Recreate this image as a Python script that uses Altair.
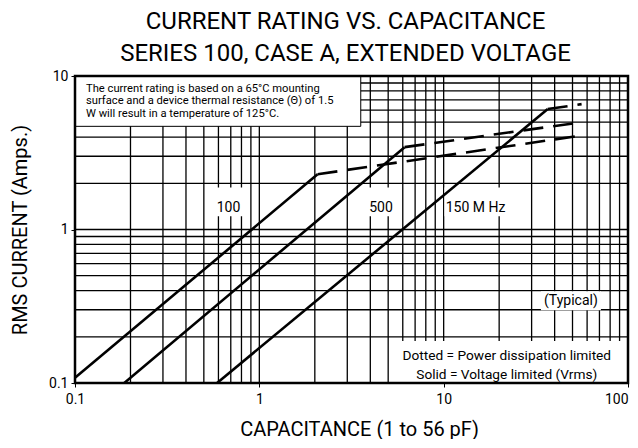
import altair as alt
import pandas as pd

W, H = 553, 307
FONT = "Roboto"

# ---- data ----
series = ["100", "500", "150"]
solid_c = {"100": [0.1, 2.07], "500": [0.185, 6.14], "150": [0.59, 36.7]}
solid_i = {"100": [0.108, 2.29], "500": [0.1, 3.44], "150": [0.1, 6.09]}
dash_c = {"100": [2.07, 56], "500": [6.14, 56], "150": [36.7, 56]}
dash_i = {"100": [2.29, 4.1], "500": [3.44, 5.0], "150": [6.09, 6.56]}

x_grid = [0.2, 0.3, 0.4, 0.5, 0.6, 0.7, 0.8, 0.9, 1, 2, 3, 4, 5, 6, 7, 8, 9,
          10, 20, 30, 40, 50, 60, 70, 80, 90]
y_grid = [0.2, 0.3, 0.4, 0.5, 0.6, 0.7, 0.8, 0.9, 1, 2, 3, 4, 5, 6, 7, 8, 9]
x_ticks = [0.1, 1, 10, 100]
y_ticks = [0.1, 1, 10]

note_lines = ["The current rating is based on a 65°C mounting",
              "surface and a device thermal resistance (Θ) of 1.5",
              "W will result in a temperature of 125°C."]
note_i = [8.26, 6.84, 5.67]

curve_labels = ["100", "500", "150 M Hz"]
curve_label_c = [0.68, 4.57, 14.9]
curve_label_i = 1.39
curve_bg_c1 = [0.577, 3.63, 10.1]
curve_bg_c2 = [0.871, 5.62, 21.7]
curve_bg_i1 = 1.88
curve_bg_i2 = 1.22

legend_lines = ["Dotted = Power dissipation limited", "Solid = Voltage limited (Vrms)"]
legend_i = [0.15, 0.113]
legend_c = 22.0

# ---- tables ----
rows = []
for s in series:
    for k in range(2):
        rows.append({"series": s, "style": "solid", "C": solid_c[s][k], "I": solid_i[s][k], "o": k})
        rows.append({"series": s, "style": "dash", "C": dash_c[s][k], "I": dash_i[s][k], "o": k})
curves = pd.DataFrame(rows)

xs = alt.Scale(type="log", domain=[0.1, 100])
ys = alt.Scale(type="log", domain=[0.1, 10])
xax = alt.Axis(values=x_ticks, format="~g", grid=False, domain=False, labelFlush=False,
               labelAlign={"condition": {"test": "datum.value >= 100", "value": "right"},
                           "value": "center"},
               tickColor="black", tickSize=4, labelFont=FONT, labelFontSize=14,
               labelColor="black", title="CAPACITANCE (1 to 56 pF)",
               titleFont=FONT, titleFontSize=20, titleFontWeight="normal",
               titleColor="black", titlePadding=13, labelPadding=5, titleX=284)
yax = alt.Axis(values=y_ticks, format="~g", grid=False, domain=False,
               tickColor="black", tickSize=4, labelFont=FONT, labelFontSize=14,
               labelColor="black", title="RMS CURRENT (Amps.)",
               titleFont=FONT, titleFontSize=20, titleFontWeight="normal",
               titleColor="black", titlePadding=18, labelPadding=3)


def X(f):
    return alt.X(f, scale=xs, axis=xax)


def Y(f):
    return alt.Y(f, scale=ys, axis=yax)


xgrid = alt.Chart(pd.DataFrame({"C": x_grid})).mark_rule(color="black", strokeWidth=1.3).encode(
    x=X("C:Q"), y=alt.value(0), y2=alt.value(H))
ygrid = alt.Chart(pd.DataFrame({"I": y_grid})).mark_rule(color="black", strokeWidth=1.3).encode(
    y=Y("I:Q"), x=alt.value(0), x2=alt.value(W))

base = alt.Chart(curves).encode(x=X("C:Q"), y=Y("I:Q"), detail="series:N", order="o:Q")
solid = base.transform_filter(alt.datum.style == "solid").mark_line(color="black", strokeWidth=2.6)
dashed = base.transform_filter(alt.datum.style == "dash").mark_line(
    color="black", strokeWidth=2.6, strokeDash=[20, 10])

# note box
note_box = alt.Chart(pd.DataFrame({"C": [0.1], "C2": [3.55], "I": [10], "I2": [4.7]})).mark_rect(
    fill="white", stroke="black", strokeWidth=1).encode(
    x=X("C:Q"), x2="C2:Q", y=Y("I:Q"), y2="I2:Q")
note_text = alt.Chart(pd.DataFrame({"t": note_lines, "I": note_i, "C": [0.1] * 3})).mark_text(
    align="left", baseline="middle", dx=11, font=FONT, fontSize=11.2, color="black").encode(
    x=X("C:Q"), y=Y("I:Q"), text="t:N")

# curve labels with white backing
lab_bg = alt.Chart(pd.DataFrame({"C": curve_bg_c1, "C2": curve_bg_c2,
                                 "I": [curve_bg_i1] * 3, "I2": [curve_bg_i2] * 3})).mark_rect(
    fill="white").encode(x=X("C:Q"), x2="C2:Q", y=Y("I:Q"), y2="I2:Q")
lab_text = alt.Chart(pd.DataFrame({"t": curve_labels, "C": curve_label_c,
                                   "I": [curve_label_i] * 3})).mark_text(
    font=FONT, fontSize=14, color="black", baseline="middle").encode(
    x=X("C:Q"), y=Y("I:Q"), text="t:N")

# (Typical)
typ_df = pd.DataFrame({"t": ["(Typical)"], "C": [49.0], "I": [0.343]})
typ_bg = alt.Chart(typ_df).mark_rect(fill="white", width=60, height=19).encode(
    x=X("C:Q"), y=Y("I:Q"))
typ_text = alt.Chart(typ_df).mark_text(font=FONT, fontSize=14, color="black", baseline="middle").encode(
    x=X("C:Q"), y=Y("I:Q"), text="t:N")

# legend box
leg_bg = alt.Chart(pd.DataFrame({"C": [5.84], "C2": [100], "I": [0.188], "I2": [0.1]})).mark_rect(
    fill="white").encode(x=X("C:Q"), x2="C2:Q", y=Y("I:Q"), y2="I2:Q")
leg_text = alt.Chart(pd.DataFrame({"t": legend_lines, "I": legend_i, "C": [legend_c] * 2})).mark_text(
    font=FONT, fontSize=13.7, color="black", baseline="middle").encode(
    x=X("C:Q"), y=Y("I:Q"), text="t:N")

border = alt.Chart(pd.DataFrame({"a": [0]})).mark_rect(
    filled=False, stroke="black", strokeWidth=2.5).encode(
    x=alt.value(0), x2=alt.value(W), y=alt.value(0), y2=alt.value(H))

chart = alt.layer(
    xgrid, ygrid, lab_bg, typ_bg, leg_bg, solid, dashed, note_box, note_text,
    lab_text, typ_text, leg_text, border
).properties(
    width=W, height=H,
    autosize="none",
    background="white",
    padding={"left": 67, "top": 68, "right": 2, "bottom": 56},
    title=alt.TitleParams(
        text=["CURRENT RATING VS. CAPACITANCE", "SERIES 100, CASE A, EXTENDED VOLTAGE"],
        font=FONT, fontSize=24, fontWeight="normal", color="black",
        anchor="middle", lineHeight=32, offset=3, dx=-6)
).configure_view(stroke=None)

chart.save("out.html", embed_options={"renderer": "svg", "actions": False})
